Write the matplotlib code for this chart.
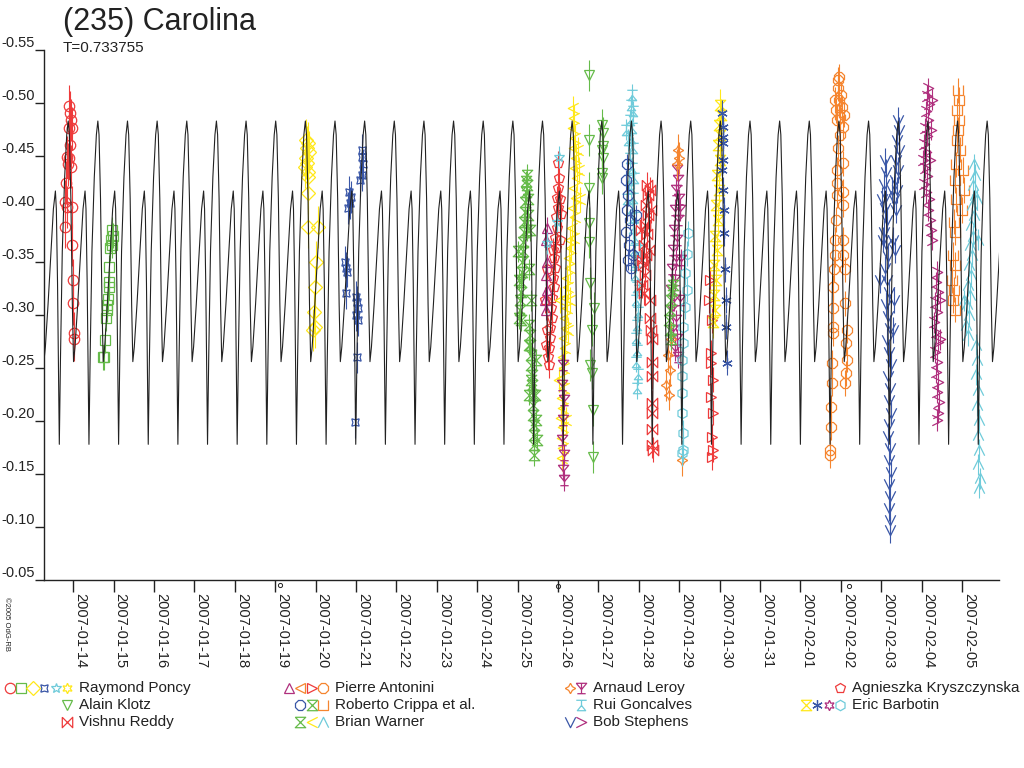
import matplotlib
matplotlib.use("Agg")
import matplotlib.pyplot as plt
from matplotlib.path import Path

plt.rcParams['font.family'] = ['Liberation Sans', 'DejaVu Sans']

# model light curve: rotation period (days) and one cycle starting at a deep minimum
period = 0.733755
t_min0 = -0.344   # days after 2007-01-14 0h
cycle_phase = [0.00, 0.04, 0.10, 0.18, 0.25, 0.30, 0.34, 0.39, 0.44, 0.48,
               0.53, 0.62, 0.72, 0.80, 0.868, 0.90, 0.94, 0.97, 1.00]
cycle_mag = [-0.178, -0.26, -0.36, -0.43, -0.47, -0.483, -0.47, -0.41, -0.31, -0.256,
             -0.27, -0.31, -0.36, -0.40, -0.417, -0.40, -0.33, -0.25, -0.178]

date_labels = ['2007-01-14', '2007-01-15', '2007-01-16', '2007-01-17', '2007-01-18',
               '2007-01-19', '2007-01-20', '2007-01-21', '2007-01-22', '2007-01-23',
               '2007-01-24', '2007-01-25', '2007-01-26', '2007-01-27', '2007-01-28',
               '2007-01-29', '2007-01-30', '2007-01-31', '2007-02-01', '2007-02-02',
               '2007-02-03', '2007-02-04', '2007-02-05']
y_ticks = [-0.55, -0.50, -0.45, -0.40, -0.35, -0.30, -0.25, -0.20, -0.15, -0.10, -0.05]

# observations: days after 2007-01-14 0h, relative magnitude
poncy_red_t = [-0.097, -0.079, -0.062, -0.097, -0.037, -0.079, -0.146, -0.097, -0.121, -0.062,
               -0.178, -0.203, -0.037, -0.161, -0.203, -0.022, -0.012, 0.002, 0.020, 0.020]
poncy_red_m = [-0.497, -0.491, -0.484, -0.476, -0.476, -0.460, -0.449, -0.448, -0.442, -0.440,
               -0.425, -0.407, -0.402, -0.402, -0.383, -0.366, -0.333, -0.311, -0.283, -0.277]

poncy_green_t = [0.963, 0.985, 0.936, 0.963, 0.911, 0.894, 0.894, 0.886, 0.869, 0.829,
                 0.829, 0.812, 0.795, 0.770, 0.745]
poncy_green_m = [-0.380, -0.375, -0.371, -0.366, -0.363, -0.345, -0.331, -0.326, -0.315, -0.309,
                 -0.305, -0.297, -0.276, -0.260, -0.260]

poncy_yellow_t = [5.762, 5.812, 5.787, 5.837, 5.762, 5.787, 5.738, 5.812, 5.812, 5.812,
                  5.812, 6.059, 6.010, 5.985, 5.960, 5.985, 5.936]
poncy_yellow_m = [-0.465, -0.462, -0.458, -0.454, -0.448, -0.443, -0.440, -0.435, -0.430, -0.415,
                  -0.383, -0.383, -0.350, -0.326, -0.303, -0.289, -0.286]

poncy_blue_t = [7.148, 7.148, 7.173, 7.148, 7.099, 6.827, 6.876, 6.851, 6.802, 6.728,
                6.752, 6.777, 6.752, 7.000, 7.025, 7.049, 7.000, 7.049, 7.025, 6.975]
poncy_blue_m = [-0.456, -0.449, -0.442, -0.432, -0.427, -0.416, -0.411, -0.406, -0.401, -0.350,
                -0.344, -0.341, -0.321, -0.317, -0.312, -0.307, -0.300, -0.295, -0.260, -0.199]

poncy_cyan_t = [12.025, 11.975, 11.728]
poncy_cyan_m = [-0.449, -0.388, -0.368]

klotz_t = [12.772, 12.772, 12.772, 12.772, 12.772, 12.797, 12.896, 12.847, 12.797, 12.847,
           12.871, 12.871, 13.089, 13.114, 13.114, 13.089, 13.114, 13.089, 13.089]
klotz_m = [-0.526, -0.465, -0.420, -0.387, -0.369, -0.330, -0.307, -0.286, -0.253, -0.245,
           -0.210, -0.166, -0.479, -0.472, -0.459, -0.456, -0.448, -0.434, -0.429]

reddy_t = [14.203, 14.228, 14.178, 14.228, 14.153, 14.203, 14.129, 14.178, 14.104, 14.153,
           14.079, 14.129, 14.277, 14.302, 14.252, 14.277, 14.277, 14.302, 14.327, 14.327,
           14.327, 14.327, 14.327, 14.327, 14.327, 14.351, 14.054, 14.079]
reddy_m = [-0.423, -0.413, -0.404, -0.394, -0.385, -0.376, -0.366, -0.357, -0.347, -0.338,
           -0.328, -0.321, -0.418, -0.399, -0.361, -0.314, -0.297, -0.286, -0.277, -0.256,
           -0.242, -0.217, -0.208, -0.192, -0.177, -0.173, -0.380, -0.352]

antonini_purple_t = [11.728, 11.703, 11.728, 11.703, 11.728, 11.678, 11.703]
antonini_purple_m = [-0.382, -0.371, -0.350, -0.338, -0.324, -0.314, -0.305]

antonini_red_t = [15.762, 15.738, 15.812, 15.787, 15.787, 15.837, 15.787, 15.837, 15.812, 15.837, 15.812]
antonini_red_m = [-0.333, -0.314, -0.295, -0.264, -0.255, -0.239, -0.223, -0.208, -0.185, -0.173, -0.166]

antonini_orange_t = [18.931, 18.931, 18.955, 19.030, 18.980, 18.906, 19.054, 18.955,
                     18.931, 18.906, 19.054, 18.906, 18.906, 19.054, 19.054, 18.881, 18.856, 19.054,
                     18.856, 19.054, 18.832, 19.104, 18.807, 19.104, 18.807, 18.807, 19.153, 18.807,
                     19.129, 19.153, 18.782, 19.129, 19.104, 18.782, 18.757, 18.757, 18.733, 18.733,
                     19.005, 18.881, 19.079, 18.980, 18.856]
antonini_orange_m = [-0.522, -0.514, -0.503, -0.496, -0.487, -0.484, -0.477, -0.525,
                     -0.458, -0.437, -0.443, -0.425, -0.413, -0.416, -0.404, -0.390, -0.371, -0.371,
                     -0.357, -0.357, -0.343, -0.343, -0.326, -0.311, -0.307, -0.289, -0.286, -0.283,
                     -0.274, -0.258, -0.255, -0.245, -0.236, -0.236, -0.213, -0.194, -0.173, -0.168,
                     -0.508, -0.493, -0.489, -0.470, -0.503]

crippa_blue_t = [13.708, 13.683, 13.733, 13.708, 13.782, 13.683, 13.757, 13.856, 13.807, 13.931, 13.733]
crippa_blue_m = [-0.442, -0.427, -0.413, -0.399, -0.390, -0.378, -0.366, -0.357, -0.344, -0.394, -0.352]

crippa_green_t = [14.847, 14.822, 14.797, 14.772, 14.748, 14.772, 14.797]
crippa_green_m = [-0.328, -0.324, -0.314, -0.305, -0.295, -0.286, -0.277]

crippa_orange_t = [21.901, 21.926, 21.876, 21.926, 21.901, 21.876, 21.950, 21.851, 22.025, 21.827,
                   22.050, 21.851, 22.000, 21.802, 21.827, 21.777, 21.827, 21.752, 21.802, 21.777, 21.827]
crippa_orange_m = [-0.512, -0.503, -0.493, -0.484, -0.475, -0.465, -0.456, -0.442, -0.437, -0.427,
                   -0.418, -0.409, -0.399, -0.388, -0.378, -0.357, -0.347, -0.333, -0.324, -0.314, -0.305]

warner_green_t = [11.035, 11.059, 11.059, 11.084, 11.084, 11.109, 11.109, 11.134, 11.134, 11.158,
                  11.158, 11.183, 11.183, 11.208, 11.208, 11.233, 11.233, 11.257, 11.257, 11.233,
                  11.084, 11.282, 11.307, 11.307, 11.332, 11.332, 11.356, 11.356, 11.381, 11.381,
                  11.381, 11.406, 11.406, 11.406, 11.406, 11.431, 11.332, 11.455, 11.282,
                  11.010, 11.307, 11.282, 11.332, 11.480, 11.282, 11.455, 11.035]
warner_green_m = [-0.297, -0.305, -0.314, -0.322, -0.331, -0.341, -0.350, -0.360, -0.369, -0.378,
                  -0.388, -0.397, -0.407, -0.416, -0.426, -0.432, -0.423, -0.409, -0.394, -0.380,
                  -0.295, -0.291, -0.281, -0.272, -0.262, -0.253, -0.243, -0.234, -0.225, -0.215,
                  -0.206, -0.196, -0.187, -0.177, -0.168, -0.225, -0.239, -0.201, -0.272,
                  -0.360, -0.380, -0.343, -0.314, -0.182, -0.225, -0.258, -0.333]

warner_yellow_t = [12.371, 12.396, 12.371, 12.421, 12.396, 12.446, 12.421, 12.470, 12.396, 12.446,
                   12.371, 12.421, 12.347, 12.396, 12.322, 12.272, 12.297, 12.223, 12.248, 12.198,
                   12.223, 12.173, 12.198, 12.149, 12.173, 12.124, 12.149, 12.099, 12.149, 12.099,
                   12.124, 12.074, 12.124, 12.099, 12.124, 12.099, 12.495, 12.520, 12.297, 12.050,
                   12.545, 12.248, 12.025, 12.297, 12.198]
warner_yellow_m = [-0.495, -0.486, -0.476, -0.467, -0.458, -0.448, -0.439, -0.429, -0.420, -0.410,
                   -0.401, -0.392, -0.382, -0.373, -0.363, -0.354, -0.344, -0.335, -0.326, -0.316,
                   -0.307, -0.297, -0.288, -0.278, -0.269, -0.260, -0.250, -0.241, -0.231, -0.222,
                   -0.212, -0.203, -0.194, -0.184, -0.175, -0.165, -0.456, -0.437, -0.371, -0.314,
                   -0.409, -0.286, -0.239, -0.314, -0.201]

warner_cyan_t = [22.297, 22.322, 22.272, 22.322, 22.248, 22.297, 22.223, 22.272, 22.198, 22.248,
                 22.173, 22.223, 22.149, 22.198, 22.124, 22.173, 22.099, 22.149, 22.371, 22.396, 22.050,
                 22.347, 22.371, 22.347, 22.396, 22.371, 22.421, 22.396, 22.421, 22.396, 22.446, 22.421]
warner_cyan_m = [-0.442, -0.432, -0.423, -0.413, -0.404, -0.394, -0.385, -0.375, -0.366, -0.357,
                 -0.347, -0.338, -0.328, -0.319, -0.310, -0.300, -0.291, -0.281, -0.409, -0.371, -0.314,
                 -0.272, -0.258, -0.244, -0.229, -0.215, -0.201, -0.187, -0.173, -0.159, -0.146, -0.137]

leroy_orange_t = [14.970, 14.995, 14.946, 14.797, 14.723, 14.772, 14.673, 14.748, 15.069]
leroy_orange_m = [-0.456, -0.448, -0.442, -0.277, -0.262, -0.248, -0.234, -0.225, -0.163]

leroy_purple_t = [14.946, 14.970, 14.921, 14.995, 14.896, 14.970, 14.871, 14.946, 14.847, 14.921,
                  14.822, 14.896, 14.797, 14.871, 14.822, 14.921, 14.847, 14.946, 14.896, 14.970,
                  15.020, 15.045, 15.020,
                  12.124, 12.099, 12.149, 12.124, 12.099, 12.149, 12.124, 12.149]
leroy_purple_m = [-0.437, -0.427, -0.418, -0.409, -0.399, -0.390, -0.380, -0.371, -0.361, -0.352,
                  -0.343, -0.333, -0.324, -0.314, -0.305, -0.295, -0.286, -0.277, -0.267, -0.260,
                  -0.399, -0.352, -0.314,
                  -0.253, -0.234, -0.220, -0.201, -0.182, -0.168, -0.154, -0.144]

goncalves_t = [13.832, 13.807, 13.856, 13.782, 13.832, 13.807, 13.856, 13.782, 13.832, 13.881,
               13.807, 13.856, 13.832, 13.881, 13.856, 13.906, 13.881, 13.931, 13.906, 13.955,
               13.931, 13.980, 13.955, 13.931, 13.955, 13.931, 13.980, 13.955, 13.733, 13.757,
               14.005, 13.683, 14.030, 13.708]
goncalves_m = [-0.508, -0.498, -0.492, -0.484, -0.476, -0.467, -0.458, -0.448, -0.439, -0.429,
               -0.420, -0.410, -0.401, -0.392, -0.382, -0.373, -0.361, -0.350, -0.338, -0.326,
               -0.314, -0.303, -0.291, -0.278, -0.267, -0.256, -0.244, -0.231, -0.465, -0.427,
               -0.324, -0.475, -0.361, -0.409]

stephens_blue_t = [20.416, 20.441, 20.391, 20.441, 20.366, 20.416, 20.342, 20.391, 20.317, 20.366,
                   20.094, 20.119, 20.069, 20.119, 20.094, 20.144, 20.069, 20.119, 20.168, 20.094,
                   20.144, 20.193, 20.119, 20.168, 20.218, 20.144, 20.193, 20.243, 20.168, 20.218,
                   20.193, 20.243, 20.193, 20.168, 20.218, 20.193, 20.243, 20.193, 20.218, 20.193,
                   20.218, 20.218, 20.020, 20.292, 20.317, 20.292,
                   19.970, 20.342, 20.267, 20.045]
stephens_blue_m = [-0.484, -0.475, -0.465, -0.456, -0.446, -0.437, -0.427, -0.418, -0.409, -0.399,
                   -0.446, -0.435, -0.424, -0.412, -0.401, -0.390, -0.378, -0.367, -0.356, -0.344,
                   -0.333, -0.322, -0.310, -0.299, -0.288, -0.276, -0.265, -0.254, -0.242, -0.231,
                   -0.220, -0.208, -0.197, -0.186, -0.175, -0.163, -0.152, -0.141, -0.129, -0.118,
                   -0.107, -0.097, -0.409, -0.371, -0.314, -0.286,
                   -0.333, -0.361, -0.418, -0.371]

stephens_purple_t = [21.158, 21.134, 21.183, 21.109, 21.158, 21.084, 21.134, 21.059, 21.109, 21.035,
                     21.084, 21.134, 21.059, 21.109, 21.183, 21.158, 21.208, 21.233, 21.257, 21.257,
                     21.233, 21.208,
                     21.381, 21.356, 21.406, 21.332, 21.381, 21.307, 21.356, 21.406, 21.332, 21.381,
                     21.356, 21.406, 21.381, 21.431, 21.406, 21.381, 21.455, 21.455]
stephens_purple_m = [-0.514, -0.507, -0.499, -0.492, -0.484, -0.476, -0.469, -0.461, -0.454, -0.446,
                     -0.439, -0.431, -0.424, -0.416, -0.409, -0.399, -0.390, -0.380, -0.371, -0.503,
                     -0.475, -0.446,
                     -0.341, -0.331, -0.322, -0.312, -0.303, -0.293, -0.284, -0.275, -0.265, -0.256,
                     -0.246, -0.237, -0.227, -0.218, -0.208, -0.201, -0.314, -0.277]

kryszczynska_t = [12.000, 12.025, 12.000, 11.975, 12.000, 11.950, 11.975, 11.926, 11.950, 11.901,
                  11.926, 11.876, 11.901, 11.851, 11.827, 11.851, 11.802, 11.802, 11.777, 11.752,
                  11.777, 12.050, 11.876, 11.728, 11.678, 11.728, 12.074, 11.703, 12.050]
kryszczynska_m = [-0.443, -0.429, -0.420, -0.410, -0.401, -0.392, -0.382, -0.373, -0.363, -0.354,
                  -0.344, -0.335, -0.326, -0.316, -0.307, -0.297, -0.288, -0.278, -0.269, -0.260,
                  -0.253, -0.409, -0.361, -0.286, -0.314, -0.343, -0.395, -0.272, -0.371]

barbotin_yellow_t = [16.010, 16.035, 15.985, 16.010, 15.960, 16.010, 15.936, 15.985, 15.911, 15.960,
                     15.886, 15.936, 15.861, 15.911, 15.861, 15.886, 15.837]
barbotin_yellow_m = [-0.498, -0.489, -0.479, -0.470, -0.460, -0.446, -0.432, -0.418, -0.404, -0.390,
                     -0.375, -0.361, -0.347, -0.333, -0.319, -0.305, -0.293]

barbotin_blue_t = [16.059, 16.084, 16.084, 16.084, 16.084, 16.059, 16.084, 16.109, 16.109, 16.134,
                   16.158, 16.158, 16.183]
barbotin_blue_m = [-0.491, -0.477, -0.468, -0.462, -0.446, -0.437, -0.418, -0.399, -0.377, -0.343,
                   -0.314, -0.289, -0.255]

barbotin_cyan_t = [15.218, 15.193, 15.144, 15.193, 15.144, 15.094, 15.094, 15.069, 15.069, 15.069,
                   15.069, 15.094, 15.094, 15.069]
barbotin_cyan_m = [-0.377, -0.358, -0.340, -0.324, -0.308, -0.289, -0.274, -0.258, -0.242, -0.226,
                   -0.208, -0.189, -0.173, -0.170]

# small marks just under the time axis
marks_t = [5.12, 12.0, 19.2]
marks_m = [-0.045, -0.044, -0.044]

RED = '#EE3B3B'
GREEN = '#66BB4A'
YELLOW = '#FFE81A'
BLUE = '#3A57A7'
CYAN = '#6FCBDA'
PURPLE = '#B0307E'
ORANGE = '#F5852F'
INK = '#222222'

MV, LN = Path.MOVETO, Path.LINETO
hourglass = Path([(-1, 1), (1, 1), (-1, -1), (1, -1), (-1, 1)])
bowtie = Path([(-1, 1), (-1, -1), (1, 1), (1, -1), (-1, 1)])
cup = Path([(-1, 1), (-1, -1), (1, -1), (1, 1)])
chev_left = Path([(1, 1), (-1, 0), (1, -1)])
chev_up = Path([(-1, -1), (0, 1), (1, -1)])
chev_v = Path([(-1, 1), (0, -1), (1, 1)])
chev_right = Path([(-1, 1), (1, 0), (-1, -1)])
trident = Path([(-1, 1), (1, 1), (0, -0.2), (-1, 1), (0, 1), (0, -1), (-0.8, -1), (0.8, -1)],
               [MV, LN, LN, LN, MV, LN, MV, LN])
tee = Path([(-1, 1), (1, 1), (0, 1), (0, 0), (-0.8, -1), (0.8, -1), (0, 0)],
           [MV, LN, MV, LN, LN, LN, LN])
star4 = (4, 1, 0)
square_star = (4, 1, 45)
hexagram = (6, 1, 0)
asterisk6 = (6, 2, 0)

series = [
    (poncy_red_t, poncy_red_m, 0.02, RED, 'o'),
    (poncy_green_t, poncy_green_m, 0.012, GREEN, 's'),
    (poncy_yellow_t, poncy_yellow_m, 0.02, YELLOW, 'D'),
    (poncy_blue_t, poncy_blue_m, 0.015, BLUE, square_star),
    (warner_green_t, warner_green_m, 0.01, GREEN, hourglass),
    (kryszczynska_t, kryszczynska_m, 0.012, RED, 'p'),
    (antonini_purple_t, antonini_purple_m, 0.01, PURPLE, '^'),
    (warner_yellow_t, warner_yellow_m, 0.012, YELLOW, chev_left),
    (poncy_cyan_t, poncy_cyan_m, 0.01, CYAN, '*'),
    (klotz_t, klotz_m, 0.015, GREEN, 'v'),
    (goncalves_t, goncalves_m, 0.01, CYAN, tee),
    (crippa_blue_t, crippa_blue_m, 0.01, BLUE, '8'),
    (reddy_t, reddy_m, 0.012, RED, bowtie),
    (leroy_purple_t, leroy_purple_m, 0.01, PURPLE, trident),
    (leroy_orange_t, leroy_orange_m, 0.015, ORANGE, star4),
    (crippa_green_t, crippa_green_m, 0.01, GREEN, hourglass),
    (barbotin_cyan_t, barbotin_cyan_m, 0.012, CYAN, 'h'),
    (antonini_red_t, antonini_red_m, 0.012, RED, '>'),
    (barbotin_yellow_t, barbotin_yellow_m, 0.015, YELLOW, hourglass),
    (barbotin_blue_t, barbotin_blue_m, 0.012, BLUE, asterisk6),
    (antonini_orange_t, antonini_orange_m, 0.012, ORANGE, '8'),
    (stephens_blue_t, stephens_blue_m, 0.012, BLUE, chev_v),
    (stephens_purple_t, stephens_purple_m, 0.01, PURPLE, chev_right),
    (crippa_orange_t, crippa_orange_m, 0.012, ORANGE, cup),
    (warner_cyan_t, warner_cyan_m, 0.01, CYAN, chev_up),
]

fig = plt.figure(figsize=(10.24, 7.68), dpi=100)
ax = fig.add_axes([44 / 1024, 188 / 768, 955 / 1024, 530 / 768])

for t, m, err, col, mk in series:
    ax.errorbar(t, m, yerr=err, fmt='none', ecolor=col, elinewidth=0.8, zorder=2)
    ax.plot(t, m, ls='none', marker=mk, ms=7.5, mfc='none', mec=col, mew=0.9, zorder=2)

# model curve repeated over the whole time span
curve_t, curve_m = [], []
for k in range(-1, 33):
    for ph, mg in zip(cycle_phase, cycle_mag):
        curve_t.append(t_min0 + (k + ph) * period)
        curve_m.append(mg)
ax.plot(curve_t, curve_m, color=INK, lw=0.8, zorder=3)

ax.plot(marks_t, marks_m, ls='none', marker='o', ms=3, mfc='none', mec=INK, mew=0.7, clip_on=False)

ax.set_xlim(-0.723, 22.916)
ax.set_ylim(-0.05, -0.55)
ax.spines['top'].set_visible(False)
ax.spines['right'].set_visible(False)
for side in ('left', 'bottom'):
    ax.spines[side].set_color(INK)
    ax.spines[side].set_linewidth(1.0)

ax.set_xticks(range(len(date_labels)))
ax.set_xticklabels(date_labels, rotation=-90, ha='left', va='top', fontsize=10.5, color=INK)
ax.tick_params(axis='x', direction='out', length=8.6, width=1, pad=1, color=INK)
ax.set_yticks(y_ticks)
ax.set_yticklabels(['%.2f' % v for v in y_ticks], va='bottom', fontsize=10.5, color=INK)
ax.tick_params(axis='y', direction='out', length=6.5, width=1, pad=0, color=INK)

# overlay in pixel coordinates for titles and the legend
ov = fig.add_axes([0, 0, 1, 1])
ov.set_xlim(0, 1024)
ov.set_ylim(768, 0)
ov.axis('off')
ov.patch.set_visible(False)

ov.text(63, 7, '(235) Carolina', fontsize=22, color=INK, va='top', ha='left')
ov.text(63, 41, 'T=%.6f' % period, fontsize=11, color=INK, va='top', ha='left')
ov.text(3, 597, '\u00a92005 OdG-RB', fontsize=5.5, color=INK, rotation=-90, va='top', ha='left')

observers = ['Raymond Poncy', 'Alain Klotz', 'Vishnu Reddy',
             'Pierre Antonini', 'Roberto Crippa et al.', 'Brian Warner',
             'Arnaud Leroy', 'Rui Goncalves', 'Bob Stephens',
             'Agnieszka Kryszczynska', 'Eric Barbotin']
legend_marks = [
    [(RED, 'o'), (GREEN, 's'), (YELLOW, 'D'), (BLUE, square_star), (CYAN, '*'), (YELLOW, hexagram)],
    [(GREEN, 'v')],
    [(RED, bowtie)],
    [(PURPLE, '^'), (ORANGE, '<'), (RED, '>'), (ORANGE, '8')],
    [(BLUE, '8'), (GREEN, hourglass), (ORANGE, cup)],
    [(GREEN, hourglass), (YELLOW, chev_left), (CYAN, chev_up)],
    [(ORANGE, star4), (PURPLE, trident)],
    [(CYAN, tee)],
    [(BLUE, chev_v), (PURPLE, chev_right)],
    [(RED, 'p')],
    [(YELLOW, hourglass), (BLUE, asterisk6), (PURPLE, hexagram), (CYAN, 'h')],
]
col_x = [79, 335, 593, 852]
row_y = [688, 705, 722]
slots = [(0, 0), (0, 1), (0, 2), (1, 0), (1, 1), (1, 2), (2, 0), (2, 1), (2, 2), (3, 0), (3, 1)]
for name, marks, (c, r) in zip(observers, legend_marks, slots):
    x0, y0 = col_x[c], row_y[r]
    n = len(marks)
    for i, (col, mk) in enumerate(marks):
        ov.plot(x0 - 12 - 11.4 * (n - 1 - i), y0, ls='none', marker=mk, ms=7.5,
                mfc='none', mec=col, mew=0.9)
    ov.text(x0, y0, name, fontsize=11, color=INK, va='center', ha='left')

fig.savefig('out.png', dpi=100)
